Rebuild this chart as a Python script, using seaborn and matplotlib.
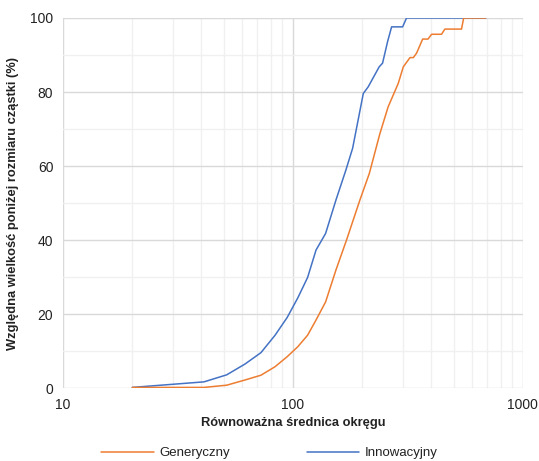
import numpy as np
import pandas as pd
import matplotlib
matplotlib.use("Agg")
import matplotlib.pyplot as plt
import seaborn as sns
from matplotlib.ticker import LogLocator, FixedLocator, NullFormatter, FuncFormatter
from matplotlib.lines import Line2D

# ---- data ----
series_names = ["Generyczny", "Innowacyjny"]

gen_x = [20, 41, 51.5, 61.8, 72.6, 83.6, 94.4, 105, 115.8, 126, 138.7, 153.8, 171, 195.5,
         214.9, 239, 259.5, 287, 302, 323, 334, 345, 366.6, 387, 401, 443, 458, 541, 553, 690]
gen_y = [0.2, 0.2, 0.8, 2.2, 3.5, 5.8, 8.5, 11.2, 14.3, 18.4, 23.3, 31.9, 40, 50.8,
         58, 68.8, 76, 82.3, 86.8, 89.3, 89.3, 90.5, 94.3, 94.3, 95.6, 95.6, 97.0, 97.0, 100, 100]

inn_x = [20, 41, 51.5, 61.8, 72.6, 83.6, 94.4, 105, 115.8, 126, 138.7, 153.8, 169.9, 181.8,
         202.3, 212.5, 237.2, 245.4, 258, 268.6, 300, 312, 690]
inn_y = [0.2, 1.7, 3.6, 6.5, 9.6, 14.3, 19.1, 24.4, 29.9, 37.3, 41.8, 50.8, 58.9, 64.8,
         79.6, 81.4, 86.8, 87.8, 93.6, 97.6, 97.6, 100, 100]

x_ticks = [10, 100, 1000]
y_ticks = [0, 20, 40, 60, 80, 100]
x_label = "Równoważna średnica okręgu"
y_label = "Względna wielkość poniżej rozmiaru cząstki (%)"
colors = {"Generyczny": "#ED7D31", "Innowacyjny": "#4472C4"}

df_gen = pd.DataFrame({"x": gen_x, "y": gen_y, "seria": series_names[0]})
df_inn = pd.DataFrame({"x": inn_x, "y": inn_y, "seria": series_names[1]})

# ---- plot ----
sns.set_theme(style="white")
plt.rcParams["font.family"] = ["Liberation Sans", "DejaVu Sans"]

fig = plt.figure(figsize=(5.39, 4.61), dpi=100)
ax = fig.add_axes([0.117, 0.158, 0.853, 0.803])

# blue first, orange on top (as in the reference)
sns.lineplot(data=df_inn, x="x", y="y", hue="seria", palette=colors, estimator=None,
             sort=False, linewidth=1.1, ax=ax, legend=False, zorder=3)
sns.lineplot(data=df_gen, x="x", y="y", hue="seria", palette=colors, estimator=None,
             sort=False, linewidth=1.1, ax=ax, legend=False, zorder=4)

ax.set_xscale("log")
ax.set_xlim(10, 1000)
ax.set_ylim(0, 100)

ax.xaxis.set_major_locator(FixedLocator(x_ticks))
ax.xaxis.set_major_formatter(FuncFormatter(lambda v, p: f"{int(v)}"))
ax.xaxis.set_minor_locator(LogLocator(base=10, subs=np.arange(2, 10)))
ax.xaxis.set_minor_formatter(NullFormatter())
ax.yaxis.set_major_locator(FixedLocator(y_ticks))
ax.yaxis.set_minor_locator(FixedLocator([10, 30, 50, 70, 90]))

ax.grid(which="major", color="#d9d9d9", linewidth=1.0, zorder=0)
ax.grid(which="minor", color="#f0f0f0", linewidth=1.0, zorder=0)
ax.set_axisbelow(True)
for s in ax.spines.values():
    s.set_visible(False)

ax.tick_params(which="both", length=0, labelsize=10, colors="#222222", pad=7)

ax.set_xlabel(x_label, fontsize=9.3, fontweight="bold", color="#222222", labelpad=4)
ax.set_ylabel(y_label, fontsize=9.3, fontweight="bold", color="#222222", labelpad=8)

handles = [Line2D([0], [0], color=colors[n], linewidth=1.1) for n in series_names]
fig.legend(handles, series_names, loc="lower center", ncol=2, frameon=False,
           fontsize=9.5, handlelength=4.0, handletextpad=0.4, columnspacing=5.8,
           bbox_to_anchor=(0.5, -0.022), labelcolor="#222222")

fig.savefig("out.png", dpi=100)
